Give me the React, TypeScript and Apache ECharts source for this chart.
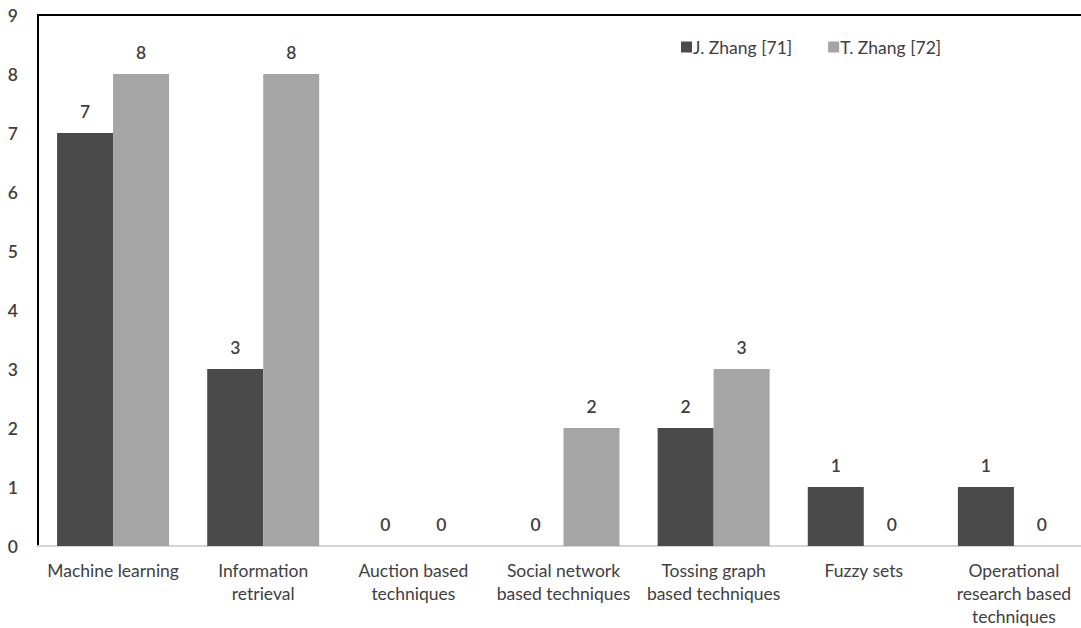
import React, { useEffect, useRef } from "react";
import * as echarts from "echarts";

const categories = [
  "Machine learning",
  "Information\nretrieval",
  "Auction based\ntechniques",
  "Social network\nbased techniques",
  "Tossing graph\nbased techniques",
  "Fuzzy sets",
  "Operational\nresearch based\ntechniques",
];
const jZhang = [7, 3, 0, 0, 2, 1, 1];
const tZhang = [8, 8, 0, 2, 3, 0, 0];
const seriesNames = ["J. Zhang [71]", "T. Zhang [72]"];
const yTicks = [0, 9, 1];

const FONT = "Lato, 'Open Sans', sans-serif";
const TXT = "#404040";
const FS = 17.5;

export default function App() {
  const ref = useRef<HTMLDivElement>(null);
  useEffect(() => {
    const chart = echarts.init(ref.current!, null, { renderer: "svg" });
    const label = {
      show: true,
      position: "top" as const,
      distance: 13,
      color: TXT,
      fontSize: FS,
      fontFamily: FONT,
      fontWeight: 600,
    };
    chart.setOption({
      animation: false,
      textStyle: { fontFamily: FONT },
      grid: { left: 38, width: 1051, top: 15, bottom: 82, outerBoundsMode: "none", containLabel: false },
      legend: {
        data: seriesNames,
        left: 676,
        top: 33,
        itemWidth: 11,
        itemHeight: 11,
        itemGap: 36,
        icon: "rect",
        textStyle: { color: TXT, fontSize: FS, fontFamily: FONT, padding: [6, 0, 0, -4] },
      },
      xAxis: [
        {
          type: "category",
          data: categories,
          axisLine: { show: true, lineStyle: { color: "#d4d4d4", width: 2 } },
          axisTick: { show: false },
          axisLabel: {
            color: TXT,
            fontSize: FS,
            fontFamily: FONT,
            lineHeight: 23,
            margin: 13,
            interval: 0,
          },
        },
        {
          type: "category",
          position: "top",
          data: categories,
          axisLine: { show: true, lineStyle: { color: "#000", width: 2 } },
          axisTick: { show: false },
          axisLabel: { show: false },
        },
      ],
      yAxis: {
        type: "value",
        min: yTicks[0],
        max: yTicks[1],
        interval: yTicks[2],
        axisLine: { show: true, lineStyle: { color: "#000", width: 2 } },
        axisTick: { show: false },
        splitLine: { show: false },
        axisLabel: { color: TXT, fontSize: FS, fontFamily: FONT, margin: 20, fontWeight: 600 },
      },
      series: [
        {
          name: seriesNames[0],
          type: "bar",
          data: jZhang,
          barWidth: 56,
          barGap: "0%",
          itemStyle: { color: "#4a4a4a" },
          label,
        },
        {
          name: seriesNames[1],
          type: "bar",
          data: tZhang,
          barWidth: 56,
          barGap: "0%",
          itemStyle: { color: "#a5a5a5" },
          label,
        },
      ],
    });
    return () => chart.dispose();
  }, []);
  return <div ref={ref} style={{ width: 1081, height: 628, position: "absolute", left: 0, top: 0 }} />;
}
